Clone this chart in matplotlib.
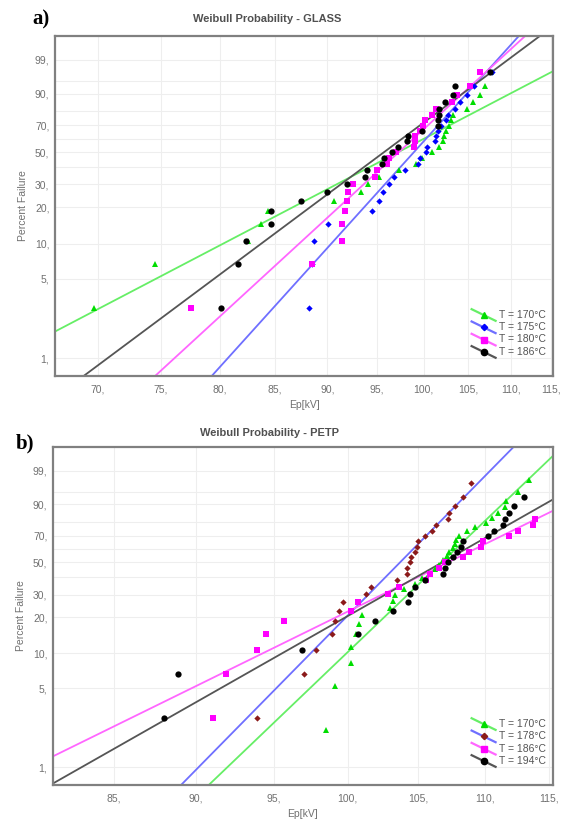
import numpy as np
import matplotlib
matplotlib.use("Agg")
import matplotlib.pyplot as plt
from matplotlib.lines import Line2D
from matplotlib.legend_handler import HandlerLine2D
from matplotlib.ticker import FixedLocator, FixedFormatter

plt.rcParams['font.family'] = ['Liberation Sans', 'DejaVu Sans']

# ---------------- data ----------------
# median-rank percent levels read from the point rows (25 specimens)
pct_levels_25 = [2.76, 6.69, 10.63, 14.57, 18.50, 22.44, 26.38, 30.31, 34.25, 38.19,
                 42.13, 46.06, 50.00, 53.94, 57.87, 61.81, 65.75, 69.69, 73.62, 77.56,
                 81.50, 85.43, 89.37, 93.31, 97.24]
# rows for the 32-specimen series of panel b
pct_levels_32 = [2.16, 5.25, 8.33, 11.42, 14.51, 17.59, 20.68, 23.77, 26.85, 29.94,
                 33.02, 36.11, 39.20, 42.28, 45.37, 48.46, 51.54, 54.63, 57.72, 60.80,
                 63.89, 66.98, 70.06, 73.15, 76.23, 79.32, 82.41, 85.49, 88.58, 91.67,
                 94.75, 97.84]

# Panel a) GLASS
glass_labels = ["T = 170°C", "T = 175°C", "T = 180°C", "T = 186°C"]
glass_170 = [69.7, 74.5, 82.5, 83.7, 84.3, 90.7, 93.4, 94.1, 95.2, 97.3, 99.2, 99.8, 100.9,
             101.7, 102.1, 102.3, 102.5, 102.8, 103.0, 103.3, 104.8, 105.5, 106.3, 106.9, 107.6]
glass_175 = [88.2, 88.5, 88.7, 90.1, 94.5, 95.2, 95.6, 96.3, 96.8, 98.0, 99.4, 99.6, 100.2,
             100.4, 101.2, 101.4, 101.6, 101.9, 102.5, 102.7, 103.5, 104.1, 104.9, 105.7, 107.8]
glass_180 = [77.5, 88.5, 91.4, 91.4, 91.7, 91.9, 92.1, 92.6, 94.8, 95.0, 96.1, 96.3, 97.0,
             98.9, 99.0, 99.1, 99.6, 99.9, 100.1, 100.9, 101.4, 103.1, 103.7, 105.2, 106.4]
glass_186 = [80.1, 81.6, 82.3, 84.6, 84.6, 87.4, 90.0, 92.0, 93.8, 94.0, 95.5, 95.7, 96.6,
             97.2, 98.2, 98.3, 99.8, 101.6, 101.6, 101.7, 101.7, 102.4, 103.3, 103.5, 107.5]
glass_beta = [9.82, 20.8, 17.26, 14.0]      # Weibull shape of fitted lines
glass_eta = [100.96, 100.7, 99.4, 98.3]     # Weibull scale (kV)

# Panel b) PETP
petp_labels = ["T = 170°C", "T = 178°C", "T = 186°C", "T = 194°C"]
petp_170 = [98.5, 99.1, 100.2, 100.2, 100.6, 100.8, 101.0, 103.0, 103.2, 103.3, 104.0, 104.8,
            105.3, 105.8, 106.2, 106.5, 106.8, 107.1, 107.3, 107.6, 107.7, 107.8, 108.0, 108.6,
            109.2, 110.1, 110.5, 111.0, 111.5, 111.6, 112.5, 113.4]
petp_178 = [93.9, 97.0, 97.8, 98.9, 99.1, 99.4, 99.7, 101.3, 101.6, 103.5, 104.2, 104.2, 104.4,
            104.5, 104.8, 104.9, 105.0, 105.5, 106.0, 106.3, 107.2, 107.3, 107.7, 108.3, 108.9]
petp_186 = [91.1, 91.9, 93.9, 94.5, 95.7, 100.2, 100.7, 102.8, 103.6, 105.6, 105.9, 106.5,
            107.0, 108.3, 108.8, 109.7, 109.8, 111.8, 112.5, 113.7, 113.9]
petp_194 = [88.0, 88.9, 96.9, 100.7, 101.9, 103.2, 104.3, 104.4, 104.8, 105.5, 106.8, 107.0,
            107.2, 107.6, 107.9, 108.2, 108.3, 110.2, 110.7, 111.4, 111.5, 111.8, 112.2, 113.0]
petp_beta = [28.5, 30.3, 14.64, 16.93]
petp_eta = [108.1, 104.95, 109.9, 109.1]

y_tick_vals = [1, 5, 10, 20, 30, 50, 70, 90, 99]
y_minor_vals = [40, 60, 80, 95]
xa_ticks = [70, 75, 80, 85, 90, 95, 100, 105, 110, 115]
xb_ticks = [85, 90, 95, 100, 105, 110, 115]

# ---------------- styles ----------------
line_colors = ["#66ee66", "#6f6fff", "#ff66ff", "#555555"]
glass_mcolors = ["#00dd00", "#0000ff", "#ff00ff", "#000000"]
petp_mcolors = ["#00dd00", "#8b1a1a", "#ff00ff", "#000000"]
petp_lcolors = ["#66ee66", "#6f6fff", "#ff66ff", "#555555"]
markers = ["^", "D", "s", "o"]
msizes = [4.2, 3.2, 4.5, 4.5]


def fwd(p):
    p = np.clip(np.asarray(p, dtype=float), 1e-9, 100 - 1e-9) / 100.0
    return np.log(-np.log(1.0 - p))


def inv(w):
    w = np.asarray(w, dtype=float)
    return 100.0 * (1.0 - np.exp(-np.exp(w)))


class DiagHandler(HandlerLine2D):
    def create_artists(self, legend, orig_handle, xdescent, ydescent, width, height,
                       fontsize, trans):
        x0, x1 = -xdescent, -xdescent + width
        y0, y1 = -ydescent + height * 1.05, -ydescent - height * 0.2
        ln = Line2D([x0, x1], [y0, y1], color=orig_handle.get_color(), lw=1.6)
        mk = Line2D([(x0 + x1) / 2], [(y0 + y1) / 2], marker=orig_handle.get_marker(),
                    markerfacecolor=orig_handle.get_markerfacecolor(),
                    markeredgecolor=orig_handle.get_markerfacecolor(),
                    markersize=orig_handle.get_markersize(), linestyle='none')
        ln.set_transform(trans)
        mk.set_transform(trans)
        return [ln, mk]


fig = plt.figure(figsize=(5.62, 8.25), dpi=100)
W, H = 562.0, 825.0


def make_axes(l, t, r, b):
    return fig.add_axes([l / W, 1 - b / H, (r - l) / W, (b - t) / H])


def style_axes(ax, xlim, xticks):
    ax.set_xscale('log')
    ax.set_yscale('function', functions=(fwd, inv))
    ax.set_xlim(*xlim)
    ax.set_ylim(inv(-4.97), inv(2.02))
    ax.xaxis.set_major_locator(FixedLocator(xticks))
    ax.xaxis.set_major_formatter(FixedFormatter([f"{t}," for t in xticks]))
    ax.xaxis.set_minor_locator(FixedLocator([]))
    ax.yaxis.set_major_locator(FixedLocator(y_tick_vals))
    ax.yaxis.set_major_formatter(FixedFormatter([f"{t}," for t in y_tick_vals]))
    ax.yaxis.set_minor_locator(FixedLocator(y_minor_vals))
    ax.grid(True, which='both', color='#eeeeee', lw=0.8)
    ax.set_axisbelow(True)
    ax.tick_params(which='both', length=0, labelsize=7.5, labelcolor='#707070')
    ax.tick_params(axis='x', pad=6)
    ax.tick_params(axis='y', pad=4)
    for s in ax.spines.values():
        s.set_color('#808080')
        s.set_linewidth(1.6)
    ax.set_xlabel("Ep[kV]", fontsize=7.5, color='#707070', labelpad=4)
    ax.set_ylabel("Percent Failure", fontsize=7.5, color='#707070', labelpad=5)


def draw_panel(ax, series, levels, betas, etas, lcolors, mcolors, xlim):
    handles = []
    for i, xs in enumerate(series):
        xs = np.asarray(xs)
        ys = np.asarray(levels[i][:len(xs)])
        xmax = min(xlim[1] * 1.01, etas[i] * np.exp(2.6 / betas[i]))
        xx = np.geomspace(xlim[0] * 0.99, xmax, 300)
        ff = 100.0 * (1.0 - np.exp(-(xx / etas[i]) ** betas[i]))
        ax.plot(xx, ff, color=lcolors[i], lw=1.3, zorder=2)
        ax.plot(xs, ys, linestyle='none', marker=markers[i], ms=msizes[i],
                color=mcolors[i], markeredgewidth=0, zorder=3)
        handles.append(Line2D([], [], color=lcolors[i], marker=markers[i],
                              markerfacecolor=mcolors[i], markersize=msizes[i]))
    return handles


legend_kw = dict(loc='lower right', bbox_to_anchor=(1.0, 0.035), frameon=False,
                 fontsize=7.5, labelcolor='#555555', handlelength=2.3, handleheight=1.0,
                 handletextpad=0.3, labelspacing=0.2, borderpad=0.2,
                 handler_map={Line2D: DiagHandler()})

# Panel a
xlim_a = (66.8, 115.2)
ax1 = make_axes(55, 36, 553, 376)
style_axes(ax1, xlim_a, xa_ticks)
h1 = draw_panel(ax1, [glass_170, glass_175, glass_180, glass_186],
                [pct_levels_25] * 4, glass_beta, glass_eta, line_colors, glass_mcolors,
                xlim_a)
ax1.legend(h1, glass_labels, **legend_kw)

# Panel b
xlim_b = (81.5, 115.3)
ax2 = make_axes(53, 447, 553, 785)
style_axes(ax2, xlim_b, xb_ticks)
h2 = draw_panel(ax2, [petp_170, petp_178, petp_186, petp_194],
                [pct_levels_32, pct_levels_25, pct_levels_25, pct_levels_25],
                petp_beta, petp_eta, petp_lcolors, petp_mcolors, xlim_b)
ax2.legend(h2, petp_labels, **legend_kw)

# Titles and panel letters
fig.text(267 / W, 1 - 19 / H, "Weibull Probability - GLASS", ha='center', va='center',
         fontsize=8, fontweight='bold', color='#505050')
fig.text(270 / W, 1 - 433 / H, "Weibull Probability - PETP", ha='center', va='center',
         fontsize=8, fontweight='bold', color='#505050')
fig.text(32 / W, 1 - 19 / H, "a)", ha='left', va='center', fontsize=15,
         fontweight='bold', family=['Liberation Serif', 'DejaVu Serif'])
fig.text(16 / W, 1 - 443 / H, "b)", ha='left', va='center', fontsize=15,
         fontweight='bold', family=['Liberation Serif', 'DejaVu Serif'])

fig.savefig("out.png", dpi=100, facecolor='white')
